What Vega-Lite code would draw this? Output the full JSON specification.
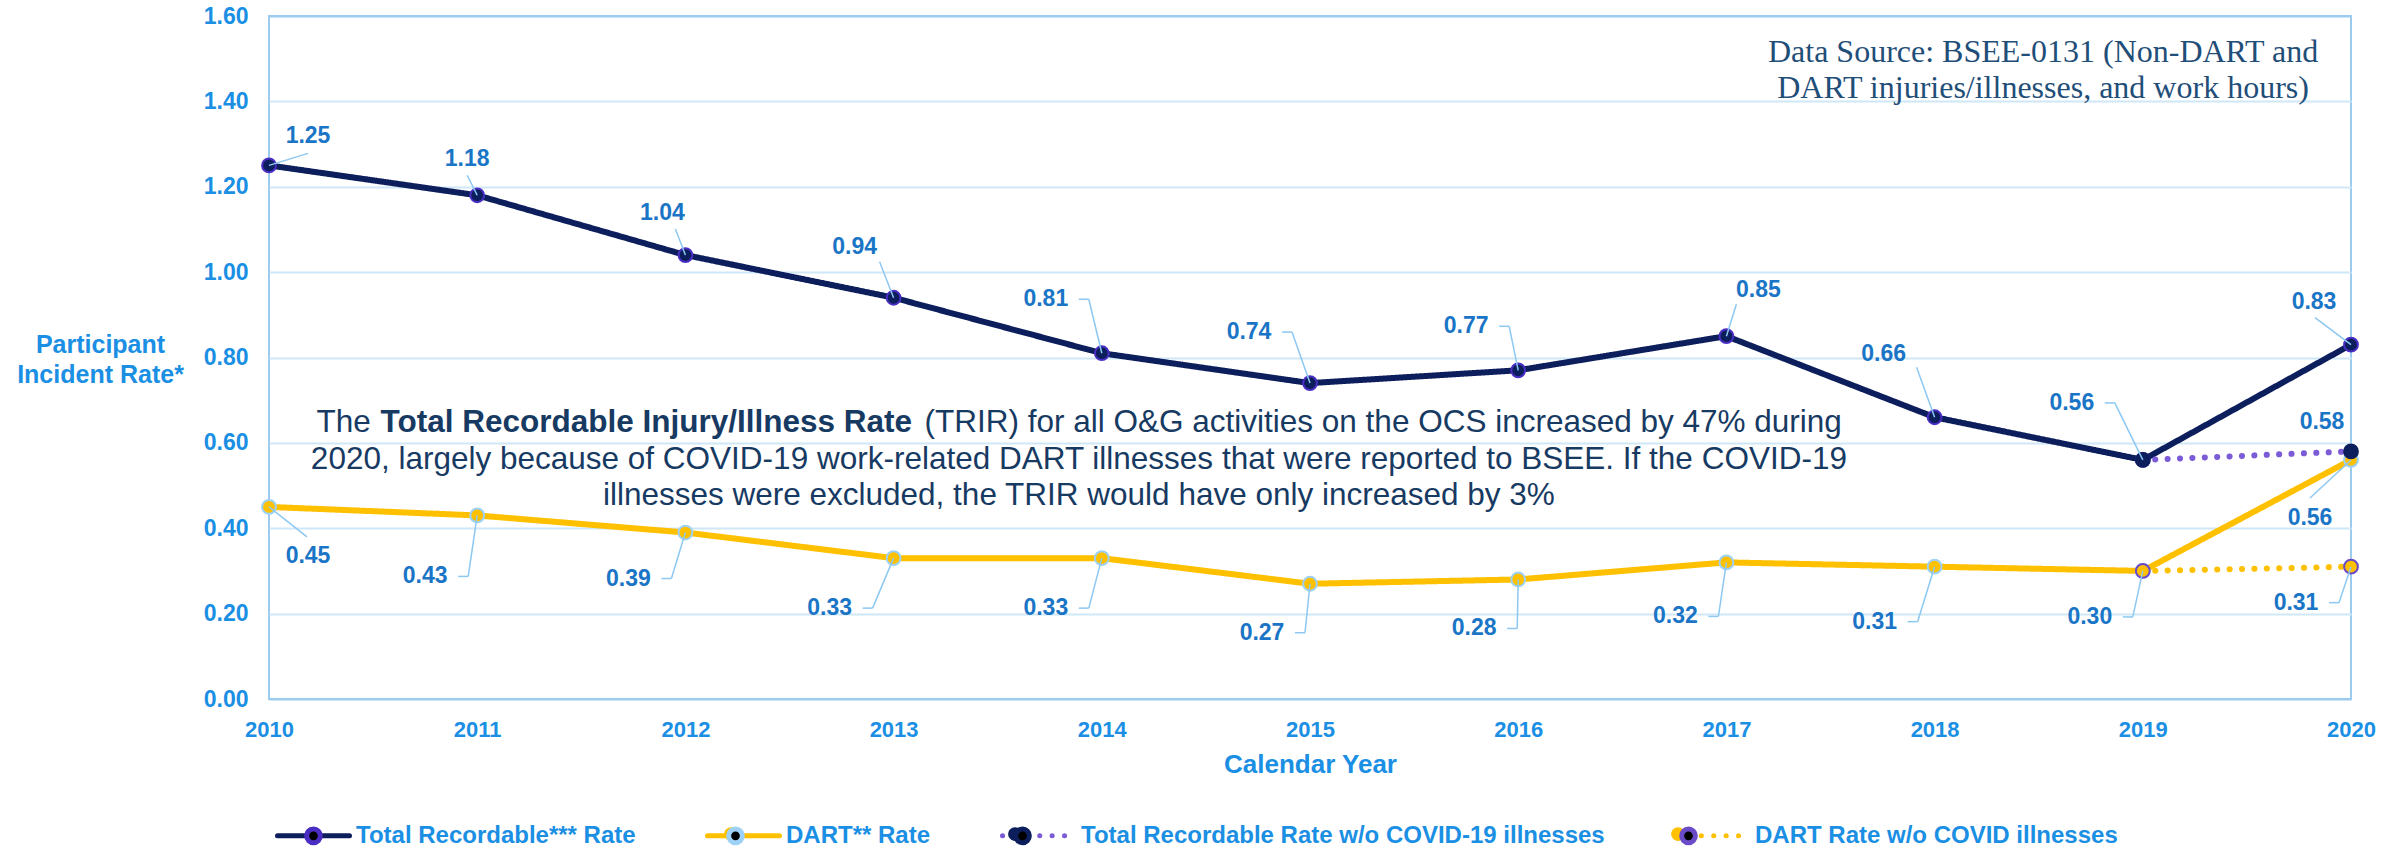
{
  "$schema": "https://vega.github.io/schema/vega-lite/v6.json",
  "width": 2082,
  "height": 683,
  "autosize": {"type": "none"},
  "padding": {"left": 269, "top": 16, "right": 51, "bottom": 148},
  "background": "white",
  "config": {
    "font": "Liberation Sans",
    "view": {"stroke": "#9ccbf0", "strokeWidth": 2}
  },
  "data": {
    "values": [
      {"year": 2010, "series": "Total Recordable*** Rate", "value": 1.25},
      {"year": 2011, "series": "Total Recordable*** Rate", "value": 1.18},
      {"year": 2012, "series": "Total Recordable*** Rate", "value": 1.04},
      {"year": 2013, "series": "Total Recordable*** Rate", "value": 0.94},
      {"year": 2014, "series": "Total Recordable*** Rate", "value": 0.81},
      {"year": 2015, "series": "Total Recordable*** Rate", "value": 0.74},
      {"year": 2016, "series": "Total Recordable*** Rate", "value": 0.77},
      {"year": 2017, "series": "Total Recordable*** Rate", "value": 0.85},
      {"year": 2018, "series": "Total Recordable*** Rate", "value": 0.66},
      {"year": 2019, "series": "Total Recordable*** Rate", "value": 0.56},
      {"year": 2020, "series": "Total Recordable*** Rate", "value": 0.83},
      {"year": 2010, "series": "DART** Rate", "value": 0.45},
      {"year": 2011, "series": "DART** Rate", "value": 0.43},
      {"year": 2012, "series": "DART** Rate", "value": 0.39},
      {"year": 2013, "series": "DART** Rate", "value": 0.33},
      {"year": 2014, "series": "DART** Rate", "value": 0.33},
      {"year": 2015, "series": "DART** Rate", "value": 0.27},
      {"year": 2016, "series": "DART** Rate", "value": 0.28},
      {"year": 2017, "series": "DART** Rate", "value": 0.32},
      {"year": 2018, "series": "DART** Rate", "value": 0.31},
      {"year": 2019, "series": "DART** Rate", "value": 0.30},
      {"year": 2020, "series": "DART** Rate", "value": 0.56},
      {"year": 2019, "series": "Total Recordable Rate w/o COVID-19 illnesses", "value": 0.56},
      {"year": 2020, "series": "Total Recordable Rate w/o COVID-19 illnesses", "value": 0.58},
      {"year": 2019, "series": "DART Rate w/o COVID illnesses", "value": 0.30},
      {"year": 2020, "series": "DART Rate w/o COVID illnesses", "value": 0.31}
    ]
  },
  "encoding": {
    "x": {
      "field": "year", "type": "quantitative",
      "scale": {"domain": [2010, 2020], "nice": false, "zero": false},
      "axis": {
        "values": [2010, 2011, 2012, 2013, 2014, 2015, 2016, 2017, 2018, 2019, 2020],
        "format": "d", "grid": false, "ticks": false, "domain": false, "labelFlush": false,
        "labelFont": "Liberation Sans", "labelFontSize": 22, "labelFontWeight": "bold", "labelColor": "#1a8fe3",
        "labelPadding": 20,
        "title": "Calendar Year", "titleFont": "Liberation Sans", "titleFontSize": 26, "titleFontWeight": "bold",
        "titleColor": "#1a8fe3", "titleY": 73, "titleBaseline": "alphabetic"
      }
    },
    "y": {
      "field": "value", "type": "quantitative",
      "scale": {"domain": [0, 1.6], "nice": false},
      "axis": {
        "values": [0, 0.2, 0.4, 0.6, 0.8, 1.0, 1.2, 1.4, 1.6],
        "format": ".2f", "grid": true,
        "gridColor": {"condition": {"test": "datum.value == 0 || datum.value == 1.6", "value": "#9ccbf0"}, "value": "#d0e7f8"},
        "gridWidth": 2, "ticks": false, "domain": false,
        "labelFont": "Liberation Sans", "labelFontSize": 23, "labelFontWeight": "bold", "labelColor": "#1a8fe3",
        "labelPadding": 21,
        "title": ["Participant", "Incident Rate*"], "titleFont": "Liberation Sans", "titleFontSize": 25,
        "titleFontWeight": "bold", "titleColor": "#1a8fe3", "titleAngle": 0, "titleAlign": "center",
        "titleX": -169, "titleY": 336, "titleBaseline": "alphabetic", "titleLineHeight": 30
      }
    }
  },
  "layer": [
    {
      "mark": {"type": "line", "strokeWidth": 6, "strokeCap": "round", "strokeJoin": "round"},
      "encoding": {
        "color": {
          "field": "series", "type": "nominal",
          "scale": {
            "domain": ["Total Recordable*** Rate", "DART** Rate", "Total Recordable Rate w/o COVID-19 illnesses", "DART Rate w/o COVID illnesses"],
            "range": ["#0d1e5c", "#ffc000", "#7b5cd6", "#ffc000"]
          },
          "legend": {
            "orient": "none", "legendX": 6, "legendY": 781, "direction": "horizontal", "title": null,
            "symbolType": "stroke", "symbolSize": 5184, "symbolStrokeWidth": 5,
            "labelFont": "Liberation Sans", "labelFontSize": 24, "labelFontWeight": "bold", "labelColor": "#1a8fe3",
            "labelOffset": 4, "labelLimit": 1000, "columnPadding": 61, "padding": 0, "zindex": 1,
            "encode": {"symbols": {"update": {"strokeCap": {"value": "round"}}}}
          }
        },
        "strokeDash": {
          "field": "series", "type": "nominal",
          "scale": {
            "domain": ["Total Recordable*** Rate", "DART** Rate", "Total Recordable Rate w/o COVID-19 illnesses", "DART Rate w/o COVID illnesses"],
            "range": [[1, 0], [1, 0], [0.1, 12.3], [0.1, 12.3]]
          },
          "legend": {
            "orient": "none", "legendX": 6, "legendY": 781, "direction": "horizontal", "title": null,
            "symbolType": "stroke", "symbolSize": 5184, "symbolStrokeWidth": 5,
            "labelFont": "Liberation Sans", "labelFontSize": 24, "labelFontWeight": "bold", "labelColor": "#1a8fe3",
            "labelOffset": 4, "labelLimit": 1000, "columnPadding": 61, "padding": 0, "zindex": 1,
            "encode": {"symbols": {"update": {"strokeCap": {"value": "round"}}}}
          }
        }
      }
    },
    {
      "mark": {"type": "point", "filled": true, "size": 190, "strokeWidth": 2, "opacity": 1},
      "encoding": {
        "fill": {
          "field": "series", "type": "nominal",
          "sort": ["Total Recordable*** Rate", "DART** Rate", "Total Recordable Rate w/o COVID-19 illnesses", "DART Rate w/o COVID illnesses"],
          "scale": {"range": ["#0d1e5c", "#ffc000", "#0d1e5c", "#ffc000"]},
          "legend": {
            "orient": "none", "legendX": 6, "legendY": 781, "direction": "horizontal", "title": null,
            "symbolType": "M0.19,0A0.19,0.19,0,1,1,-0.19,0A0.19,0.19,0,1,1,0.19,0Z",
            "symbolSize": 5184, "symbolStrokeWidth": 5, "symbolOpacity": 1,
            "labelFont": "Liberation Sans", "labelFontSize": 24, "labelFontWeight": "bold", "labelColor": "#1a8fe3",
            "labelOpacity": 0,
            "labelOffset": 4, "labelLimit": 1000, "columnPadding": 61, "padding": 0, "zindex": 2,
            "encode": {
              "symbols": {"update": {"strokeWidth": {"value": 2}}},
              "labels": {"update": {"dy": {"value": -35}}}
            }
          }
        },
        "stroke": {
          "field": "series", "type": "nominal",
          "sort": ["Total Recordable*** Rate", "DART** Rate", "Total Recordable Rate w/o COVID-19 illnesses", "DART Rate w/o COVID illnesses"],
          "scale": {"range": ["#4a2ec4", "#9dd1f5", "#0d1e5c", "#6a4cc8"]},
          "legend": {
            "orient": "none", "legendX": 6, "legendY": 781, "direction": "horizontal", "title": null,
            "symbolType": "M0.19,0A0.19,0.19,0,1,1,-0.19,0A0.19,0.19,0,1,1,0.19,0Z",
            "symbolSize": 5184, "symbolStrokeWidth": 5, "symbolOpacity": 1,
            "labelFont": "Liberation Sans", "labelFontSize": 24, "labelFontWeight": "bold", "labelColor": "#1a8fe3",
            "labelOpacity": 0,
            "labelOffset": 4, "labelLimit": 1000, "columnPadding": 61, "padding": 0, "zindex": 2,
            "encode": {
              "symbols": {"update": {"strokeWidth": {"value": 2}}},
              "labels": {"update": {"dy": {"value": -35}}}
            }
          }
        }
      }
    },
    {
      "transform": [{"filter": "datum.series == 'Total Recordable*** Rate'"}],
      "mark": {
        "type": "rule", "color": "#8cc8f2", "strokeWidth": 1.5,
        "x2Offset": {"expr": "[39,-10,-10,-14,-13,-18,-9,10,-18,-28,-36][datum.year-2010]"},
        "y2Offset": {"expr": "[-12,-20,-26,-36,-54,-51,-44,-32,-50,-57,-27][datum.year-2010]"}
      },
      "encoding": {"x2": {"field": "year"}, "y2": {"field": "value"}}
    },
    {
      "transform": [{"filter": "datum.series == 'Total Recordable*** Rate'"}],
      "mark": {
        "type": "rule", "color": "#8cc8f2", "strokeWidth": 1.5,
        "xOffset": {"expr": "[0,0,0,0,-23,-28,-19,0,0,-38,0][datum.year-2010]"},
        "x2Offset": {"expr": "[0,0,0,0,-13,-18,-9,0,0,-28,0][datum.year-2010]"},
        "yOffset": {"expr": "[0,0,0,0,-54,-51,-44,0,0,-57,0][datum.year-2010]"},
        "y2Offset": {"expr": "[0,0,0,0,-54,-51,-44,0,0,-57,0][datum.year-2010]"}
      },
      "encoding": {"x2": {"field": "year"}, "y2": {"field": "value"}}
    },
    {
      "transform": [{"filter": "datum.series == 'DART** Rate'"}],
      "mark": {
        "type": "rule", "color": "#8cc8f2", "strokeWidth": 1.5,
        "x2Offset": {"expr": "[38,-9,-14,-21,-13,-5,-1,-8,-17,-10,-41][datum.year-2010]"},
        "y2Offset": {"expr": "[30,61,46,50,50,49,49,54,55,46,38][datum.year-2010]"}
      },
      "encoding": {"x2": {"field": "year"}, "y2": {"field": "value"}}
    },
    {
      "transform": [{"filter": "datum.series == 'DART** Rate'"}],
      "mark": {
        "type": "rule", "color": "#8cc8f2", "strokeWidth": 1.5,
        "xOffset": {"expr": "[0,-19,-24,-31,-23,-15,-11,-18,-27,-20,0][datum.year-2010]"},
        "x2Offset": {"expr": "[0,-9,-14,-21,-13,-5,-1,-8,-17,-10,0][datum.year-2010]"},
        "yOffset": {"expr": "[0,61,46,50,50,49,49,54,55,46,0][datum.year-2010]"},
        "y2Offset": {"expr": "[0,61,46,50,50,49,49,54,55,46,0][datum.year-2010]"}
      },
      "encoding": {"x2": {"field": "year"}, "y2": {"field": "value"}}
    },
    {
      "transform": [{"filter": "datum.series == 'DART Rate w/o COVID illnesses' && datum.year == 2020"}],
      "mark": {"type": "rule", "color": "#8cc8f2", "strokeWidth": 1.5, "x2Offset": -12, "y2Offset": 36},
      "encoding": {"x2": {"field": "year"}, "y2": {"field": "value"}}
    },
    {
      "transform": [{"filter": "datum.series == 'DART Rate w/o COVID illnesses' && datum.year == 2020"}],
      "mark": {"type": "rule", "color": "#8cc8f2", "strokeWidth": 1.5, "xOffset": -22, "x2Offset": -12, "yOffset": 36, "y2Offset": 36},
      "encoding": {"x2": {"field": "year"}, "y2": {"field": "value"}}
    },
    {
      "transform": [{"filter": "datum.series == 'Total Recordable*** Rate'"}],
      "mark": {
        "type": "text", "font": "Liberation Sans", "fontSize": 23, "fontWeight": "bold", "color": "#1a75c6",
        "align": "center", "baseline": "middle",
        "dx": {"expr": "[39,-10,-23,-39,-56,-61,-52,32,-51,-71,-37][datum.year-2010]"},
        "dy": {"expr": "[-29,-36,-42,-51,-54,-51,-44,-46,-63,-57,-43][datum.year-2010]"}
      },
      "encoding": {"text": {"field": "value", "type": "quantitative", "format": ".2f"}}
    },
    {
      "transform": [{"filter": "datum.series == 'DART** Rate'"}],
      "mark": {
        "type": "text", "font": "Liberation Sans", "fontSize": 23, "fontWeight": "bold", "color": "#1a75c6",
        "align": "center", "baseline": "middle",
        "dx": {"expr": "[39,-52,-57,-64,-56,-48,-44,-51,-60,-53,-41][datum.year-2010]"},
        "dy": {"expr": "[49,61,46,50,50,49,49,54,55,46,58][datum.year-2010]"}
      },
      "encoding": {"text": {"field": "value", "type": "quantitative", "format": ".2f"}}
    },
    {
      "transform": [{"filter": "datum.series == 'Total Recordable Rate w/o COVID-19 illnesses' && datum.year == 2020"}],
      "mark": {
        "type": "text", "font": "Liberation Sans", "fontSize": 23, "fontWeight": "bold", "color": "#1a75c6",
        "align": "center", "baseline": "middle", "dx": -29, "dy": -29
      },
      "encoding": {"text": {"field": "value", "type": "quantitative", "format": ".2f"}}
    },
    {
      "transform": [{"filter": "datum.series == 'DART Rate w/o COVID illnesses' && datum.year == 2020"}],
      "mark": {
        "type": "text", "font": "Liberation Sans", "fontSize": 23, "fontWeight": "bold", "color": "#1a75c6",
        "align": "center", "baseline": "middle", "dx": -55, "dy": 36
      },
      "encoding": {"text": {"field": "value", "type": "quantitative", "format": ".2f"}}
    },
    {
      "transform": [{"filter": "datum.series == 'DART** Rate' && datum.year == 2010"}],
      "mark": {"type": "text", "text": "The", "font": "Liberation Sans", "fontSize": 31.5, "color": "#173a63", "align": "left", "baseline": "middle", "dx": -768},
      "encoding": {"x": {"datum": 2013.917}, "y": {"datum": 0.6466}}
    },
    {
      "transform": [{"filter": "datum.series == 'DART** Rate' && datum.year == 2010"}],
      "mark": {"type": "text", "text": "Total Recordable Injury/Illness Rate", "font": "Liberation Sans", "fontSize": 31.5, "fontWeight": "bold", "color": "#173a63", "align": "left", "baseline": "middle", "dx": -704},
      "encoding": {"x": {"datum": 2013.917}, "y": {"datum": 0.6466}}
    },
    {
      "transform": [{"filter": "datum.series == 'DART** Rate' && datum.year == 2010"}],
      "mark": {"type": "text", "text": "(TRIR) for all O&G activities on the OCS increased by 47% during", "font": "Liberation Sans", "fontSize": 31.5, "color": "#173a63", "align": "left", "baseline": "middle", "dx": -160},
      "encoding": {"x": {"datum": 2013.917}, "y": {"datum": 0.6466}}
    },
    {
      "transform": [{"filter": "datum.series == 'DART** Rate' && datum.year == 2010"}],
      "mark": {"type": "text", "text": "2020, largely because of COVID-19 work-related DART illnesses that were reported to BSEE. If the COVID-19", "font": "Liberation Sans", "fontSize": 31.5, "color": "#173a63", "align": "center", "baseline": "middle"},
      "encoding": {"x": {"datum": 2013.89}, "y": {"datum": 0.5599}}
    },
    {
      "transform": [{"filter": "datum.series == 'DART** Rate' && datum.year == 2010"}],
      "mark": {"type": "text", "text": "illnesses were excluded, the TRIR would have only increased by 3%", "font": "Liberation Sans", "fontSize": 31.5, "color": "#173a63", "align": "center", "baseline": "middle"},
      "encoding": {"x": {"datum": 2013.89}, "y": {"datum": 0.4756}}
    },
    {
      "transform": [{"filter": "datum.series == 'DART** Rate' && datum.year == 2010"}],
      "mark": {"type": "text", "text": "Data Source: BSEE-0131 (Non-DART and", "font": "Liberation Serif", "fontSize": 32, "color": "#1f4e79", "align": "center", "baseline": "middle"},
      "encoding": {"x": {"datum": 2018.521}, "y": {"datum": 1.5156}}
    },
    {
      "transform": [{"filter": "datum.series == 'DART** Rate' && datum.year == 2010"}],
      "mark": {"type": "text", "text": "DART injuries/illnesses, and work hours)", "font": "Liberation Serif", "fontSize": 32, "color": "#1f4e79", "align": "center", "baseline": "middle"},
      "encoding": {"x": {"datum": 2018.521}, "y": {"datum": 1.4313}}
    }
  ]
}
